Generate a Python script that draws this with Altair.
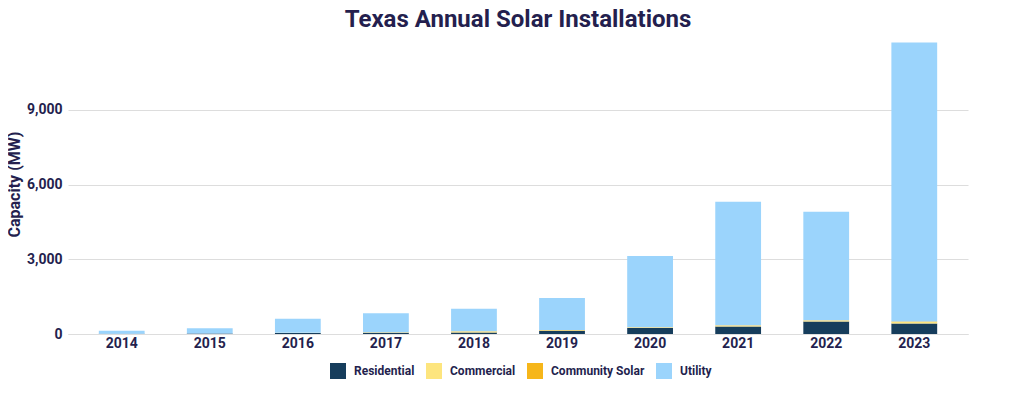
import altair as alt
import pandas as pd

years = ["2014", "2015", "2016", "2017", "2018", "2019", "2020", "2021", "2022", "2023"]
residential = [12, 20, 45, 55, 60, 135, 240, 305, 505, 425]
commercial = [3, 5, 10, 15, 45, 20, 25, 40, 40, 60]
community = [0, 0, 0, 0, 5, 5, 5, 5, 10, 20]
utility = [118, 204, 561, 761, 908, 1287, 2865, 4956, 4349, 11195]

segments = ["Residential", "Commercial", "Community Solar", "Utility"]
colors = ["#163d5c", "#fde57e", "#f6b61a", "#9bd4fc"]

rows = []
for i, y in enumerate(years):
    for k, (seg, vals) in enumerate(zip(segments, [residential, commercial, community, utility])):
        rows.append({"Year": y, "Segment": seg, "Capacity": vals[i], "order": k})
df = pd.DataFrame(rows)

text_color = "#241f4e"

chart = alt.Chart(df).mark_bar().encode(
    x=alt.X("Year:N", sort=years, title=None,
            scale=alt.Scale(paddingInner=0.48, paddingOuter=0.35),
            axis=alt.Axis(labelAngle=0, ticks=False, domain=True, domainColor="#dddddd",
                          labelFontSize=14, labelFontWeight="bold", labelColor=text_color,
                          labelPadding=2, labelFont="Roboto")),
    y=alt.Y("Capacity:Q", stack="zero", title="Capacity (MW)",
            scale=alt.Scale(domain=[0, 12000], nice=False),
            axis=alt.Axis(values=[0, 3000, 6000, 9000], format=",.0f", ticks=False, domain=False,
                          gridColor="#dddddd", labelFontSize=14, labelFontWeight="bold",
                          labelColor=text_color, labelPadding=6, labelFont="Roboto",
                          titleFontSize=16, titleFontWeight="bold", titleColor=text_color,
                          titleFont="Roboto", titleX=-54, titleY=149, titleAngle=-90,
                          titleAlign="center", titleBaseline="middle")),
    color=alt.Color("Segment:N", sort=segments,
                    scale=alt.Scale(domain=segments, range=colors),
                    legend=alt.Legend(title=None, orient="none", direction="horizontal",
                                      legendX=262, legendY=328, symbolType="square",
                                      symbolSize=256, symbolStrokeWidth=0,
                                      labelFontSize=12, labelFontWeight="bold",
                                      labelColor=text_color, labelFont="Roboto",
                                      labelOffset=8, columnPadding=11)),
    order=alt.Order("order:Q", sort="ascending"),
).properties(
    width=900,
    height=299,
    padding={"left": 60, "top": 27, "right": 40, "bottom": 50},
    autosize=alt.AutoSizeParams(type="none"),
    title=alt.TitleParams("Texas Annual Solar Installations", fontSize=24, fontWeight="bold",
                          color=text_color, font="Roboto", anchor="middle", offset=3),
).configure_view(stroke=None)

chart.save("out.html", embed_options={"renderer": "svg", "actions": False})
